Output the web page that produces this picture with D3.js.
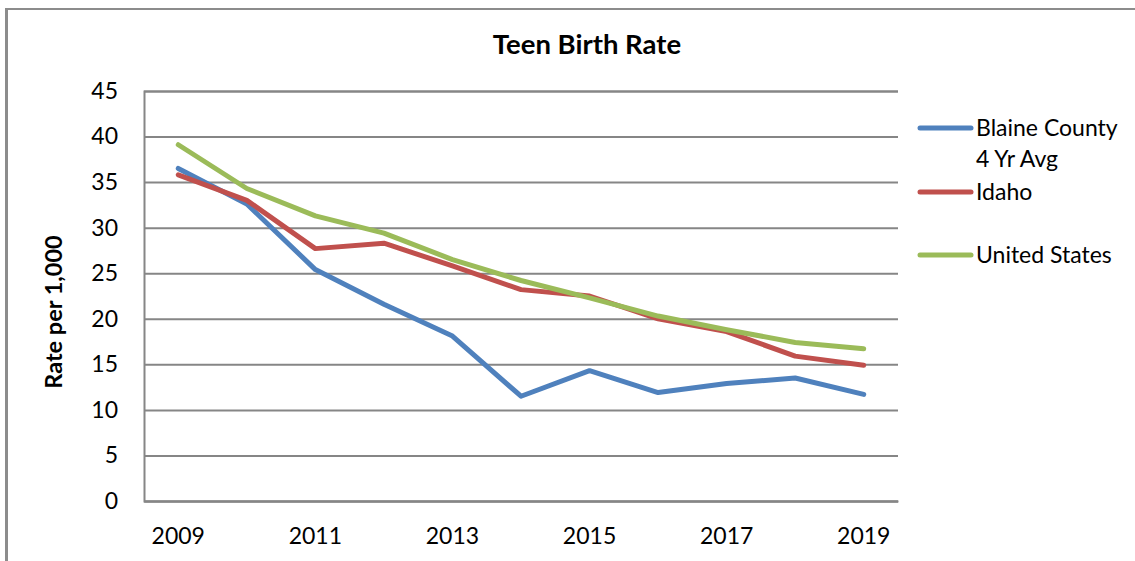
<!DOCTYPE html>
<html>
<head>
<meta charset="utf-8">
<script src="https://cdn.jsdelivr.net/npm/d3@7"></script>
<style>
  html, body { margin: 0; padding: 0; background: #fff; }
  svg { display: block; }
</style>
</head>
<body>
<div id="chart"></div>
<script>
const years = [2009, 2010, 2011, 2012, 2013, 2014, 2015, 2016, 2017, 2018, 2019];
const blaine = [36.5, 32.6, 25.4, 21.6, 18.1, 11.5, 14.3, 11.9, 12.9, 13.5, 11.7];
const idaho = [35.8, 33.0, 27.7, 28.3, 25.8, 23.2, 22.5, 20.0, 18.6, 15.9, 14.9];
const unitedStates = [39.1, 34.3, 31.3, 29.4, 26.5, 24.2, 22.3, 20.3, 18.8, 17.4, 16.7];
const yTicks = [0, 5, 10, 15, 20, 25, 30, 35, 40, 45];
const xLabels = [2009, 2011, 2013, 2015, 2017, 2019];

const series = [
  { name: ['Blaine County', '4 Yr Avg'], values: blaine, color: '#4F81BD' },
  { name: ['Idaho'], values: idaho, color: '#C0504D' },
  { name: ['United States'], values: unitedStates, color: '#9BBB59' },
];

const W = 1135, H = 561;
const font = 'Lato, Carlito, Calibri, sans-serif';
const margin = { top: 91, right: 237, bottom: 60, left: 144 };
const width = W - margin.left - margin.right;
const height = H - margin.top - margin.bottom;

const root = d3.select('#chart').append('svg').attr('width', W).attr('height', H);

// outer frame
root.append('line').attr('x1', 6.5).attr('x2', 6.5).attr('y1', 8).attr('y2', H)
  .attr('stroke', '#8c8c8c').attr('stroke-width', 3);
root.append('line').attr('x1', 5).attr('x2', W).attr('y1', 9).attr('y2', 9)
  .attr('stroke', '#8c8c8c').attr('stroke-width', 2);

root.append('text').attr('x', 587).attr('y', 54).attr('text-anchor', 'middle')
  .attr('font-family', font).attr('font-size', '27.5px').attr('font-weight', '700')
  .text('Teen Birth Rate');

root.append('text').attr('transform', `translate(62,312) rotate(-90)`).attr('text-anchor', 'middle')
  .attr('font-family', font).attr('font-size', '23.5px').attr('font-weight', '700')
  .text('Rate per 1,000');

const svg = root.append('g').attr('transform', `translate(${margin.left},${margin.top})`);

const x = d3.scaleBand().domain(years).range([0, width]);
const y = d3.scaleLinear().domain([0, 45]).range([height, 0]);

// gridlines
svg.append('g')
  .call(d3.axisLeft(y).tickValues(yTicks).tickSize(-width).tickFormat(d => d).tickPadding(26))
  .call(g => g.select('.domain').attr('stroke', '#868686').attr('stroke-width', 2))
  .call(g => g.selectAll('.tick line').attr('stroke', '#868686').attr('stroke-width', 2))
  .call(g => g.selectAll('.tick text').attr('fill', '#000').attr('font-size', '23px').attr('font-family', font));

svg.append('g').attr('transform', `translate(0,${height})`)
  .call(d3.axisBottom(x).tickValues(xLabels).tickSize(0).tickPadding(27))
  .call(g => g.select('.domain').attr('stroke', '#868686').attr('stroke-width', 2))
  .call(g => g.selectAll('.tick text').attr('fill', '#000').attr('font-size', '23px').attr('font-family', font));

const line = d3.line()
  .x((d, i) => x(years[i]) + x.bandwidth() / 2)
  .y(d => y(d));

svg.selectAll('.series').data(series).join('path').attr('class', 'series')
  .attr('d', d => line(d.values))
  .attr('fill', 'none').attr('stroke', d => d.color)
  .attr('stroke-width', 5).attr('stroke-linecap', 'round').attr('stroke-linejoin', 'round');

// legend
const legendY = [128, 192, 255];
const legend = root.append('g');
series.forEach((s, i) => {
  const ly = legendY[i];
  legend.append('line').attr('x1', 920).attr('x2', 971).attr('y1', ly).attr('y2', ly)
    .attr('stroke', s.color).attr('stroke-width', 5).attr('stroke-linecap', 'round');
  s.name.forEach((t, j) => {
    legend.append('text').attr('x', 976).attr('y', ly + 8 + j * 31)
      .attr('font-family', font).attr('font-size', '23px').attr('fill', '#000')
      .text(t);
  });
});
</script>
</body>
</html>
